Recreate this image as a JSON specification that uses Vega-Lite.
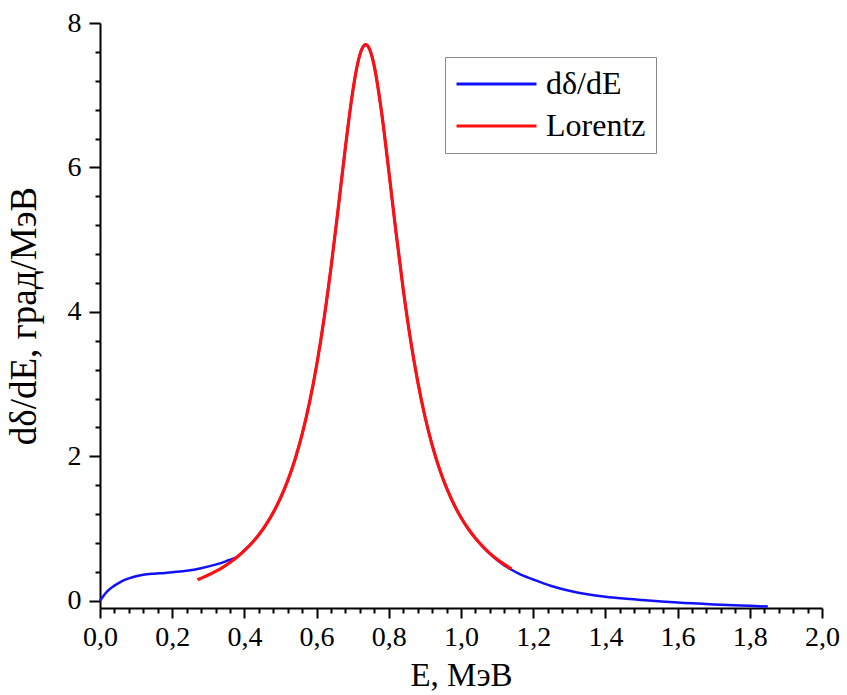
{
  "$schema": "https://vega.github.io/schema/vega-lite/v6.json",
  "autosize": "none",
  "width": 722,
  "height": 585,
  "padding": {"left": 100, "top": 23, "right": 25, "bottom": 87},
  "background": "white",
  "config": {
    "view": {"stroke": null},
    "font": "Liberation Serif",
    "axis": {"labelFont": "Liberation Serif", "titleFont": "Liberation Serif", "labelColor": "black", "titleColor": "black", "domainColor": "black", "tickColor": "black", "grid": false}
  },
  "datasets": {
    "curves": [
      {"E": 0.0, "v": 0.0, "s": "dδ/dE"},
      {"E": 0.01, "v": 0.07, "s": "dδ/dE"},
      {"E": 0.02, "v": 0.13, "s": "dδ/dE"},
      {"E": 0.04, "v": 0.21, "s": "dδ/dE"},
      {"E": 0.06, "v": 0.27, "s": "dδ/dE"},
      {"E": 0.08, "v": 0.31, "s": "dδ/dE"},
      {"E": 0.10, "v": 0.34, "s": "dδ/dE"},
      {"E": 0.12, "v": 0.36, "s": "dδ/dE"},
      {"E": 0.15, "v": 0.375, "s": "dδ/dE"},
      {"E": 0.18, "v": 0.385, "s": "dδ/dE"},
      {"E": 0.20, "v": 0.395, "s": "dδ/dE"},
      {"E": 0.24, "v": 0.415, "s": "dδ/dE"},
      {"E": 0.28, "v": 0.45, "s": "dδ/dE"},
      {"E": 0.32, "v": 0.50, "s": "dδ/dE"},
      {"E": 0.35, "v": 0.55, "s": "dδ/dE"},
      {"E": 0.38, "v": 0.61, "s": "dδ/dE"},
      {"E": 0.40, "v": 0.70, "s": "dδ/dE"},
      {"E": 0.42, "v": 0.796, "s": "dδ/dE"},
      {"E": 0.44, "v": 0.915, "s": "dδ/dE"},
      {"E": 0.46, "v": 1.056, "s": "dδ/dE"},
      {"E": 0.48, "v": 1.223, "s": "dδ/dE"},
      {"E": 0.50, "v": 1.423, "s": "dδ/dE"},
      {"E": 0.52, "v": 1.663, "s": "dδ/dE"},
      {"E": 0.54, "v": 1.954, "s": "dδ/dE"},
      {"E": 0.56, "v": 2.307, "s": "dδ/dE"},
      {"E": 0.58, "v": 2.737, "s": "dδ/dE"},
      {"E": 0.60, "v": 3.259, "s": "dδ/dE"},
      {"E": 0.62, "v": 3.885, "s": "dδ/dE"},
      {"E": 0.64, "v": 4.617, "s": "dδ/dE"},
      {"E": 0.66, "v": 5.439, "s": "dδ/dE"},
      {"E": 0.68, "v": 6.286, "s": "dδ/dE"},
      {"E": 0.70, "v": 7.048, "s": "dδ/dE"},
      {"E": 0.71, "v": 7.346, "s": "dδ/dE"},
      {"E": 0.72, "v": 7.562, "s": "dδ/dE"},
      {"E": 0.73, "v": 7.680, "s": "dδ/dE"},
      {"E": 0.736, "v": 7.70, "s": "dδ/dE"},
      {"E": 0.74, "v": 7.691, "s": "dδ/dE"},
      {"E": 0.75, "v": 7.594, "s": "dδ/dE"},
      {"E": 0.76, "v": 7.396, "s": "dδ/dE"},
      {"E": 0.78, "v": 6.764, "s": "dδ/dE"},
      {"E": 0.80, "v": 5.951, "s": "dδ/dE"},
      {"E": 0.82, "v": 5.102, "s": "dδ/dE"},
      {"E": 0.84, "v": 4.311, "s": "dδ/dE"},
      {"E": 0.86, "v": 3.620, "s": "dδ/dE"},
      {"E": 0.88, "v": 3.038, "s": "dδ/dE"},
      {"E": 0.90, "v": 2.555, "s": "dδ/dE"},
      {"E": 0.92, "v": 2.157, "s": "dδ/dE"},
      {"E": 0.94, "v": 1.831, "s": "dδ/dE"},
      {"E": 0.96, "v": 1.562, "s": "dδ/dE"},
      {"E": 0.98, "v": 1.339, "s": "dδ/dE"},
      {"E": 1.00, "v": 1.153, "s": "dδ/dE"},
      {"E": 1.02, "v": 0.997, "s": "dδ/dE"},
      {"E": 1.04, "v": 0.865, "s": "dδ/dE"},
      {"E": 1.06, "v": 0.750, "s": "dδ/dE"},
      {"E": 1.08, "v": 0.650, "s": "dδ/dE"},
      {"E": 1.10, "v": 0.565, "s": "dδ/dE"},
      {"E": 1.12, "v": 0.49, "s": "dδ/dE"},
      {"E": 1.14, "v": 0.43, "s": "dδ/dE"},
      {"E": 1.16, "v": 0.375, "s": "dδ/dE"},
      {"E": 1.20, "v": 0.295, "s": "dδ/dE"},
      {"E": 1.25, "v": 0.205, "s": "dδ/dE"},
      {"E": 1.30, "v": 0.14, "s": "dδ/dE"},
      {"E": 1.35, "v": 0.09, "s": "dδ/dE"},
      {"E": 1.40, "v": 0.055, "s": "dδ/dE"},
      {"E": 1.45, "v": 0.03, "s": "dδ/dE"},
      {"E": 1.50, "v": 0.01, "s": "dδ/dE"},
      {"E": 1.60, "v": -0.025, "s": "dδ/dE"},
      {"E": 1.70, "v": -0.05, "s": "dδ/dE"},
      {"E": 1.80, "v": -0.07, "s": "dδ/dE"},
      {"E": 1.85, "v": -0.08, "s": "dδ/dE"},
      {"E": 0.27, "v": 0.291, "s": "Lorentz"},
      {"E": 0.28, "v": 0.312, "s": "Lorentz"},
      {"E": 0.30, "v": 0.356, "s": "Lorentz"},
      {"E": 0.32, "v": 0.407, "s": "Lorentz"},
      {"E": 0.34, "v": 0.464, "s": "Lorentz"},
      {"E": 0.36, "v": 0.530, "s": "Lorentz"},
      {"E": 0.38, "v": 0.606, "s": "Lorentz"},
      {"E": 0.40, "v": 0.694, "s": "Lorentz"},
      {"E": 0.42, "v": 0.796, "s": "Lorentz"},
      {"E": 0.44, "v": 0.915, "s": "Lorentz"},
      {"E": 0.46, "v": 1.056, "s": "Lorentz"},
      {"E": 0.48, "v": 1.223, "s": "Lorentz"},
      {"E": 0.50, "v": 1.423, "s": "Lorentz"},
      {"E": 0.52, "v": 1.663, "s": "Lorentz"},
      {"E": 0.54, "v": 1.954, "s": "Lorentz"},
      {"E": 0.56, "v": 2.307, "s": "Lorentz"},
      {"E": 0.58, "v": 2.737, "s": "Lorentz"},
      {"E": 0.60, "v": 3.259, "s": "Lorentz"},
      {"E": 0.62, "v": 3.885, "s": "Lorentz"},
      {"E": 0.64, "v": 4.617, "s": "Lorentz"},
      {"E": 0.66, "v": 5.439, "s": "Lorentz"},
      {"E": 0.68, "v": 6.286, "s": "Lorentz"},
      {"E": 0.70, "v": 7.048, "s": "Lorentz"},
      {"E": 0.71, "v": 7.346, "s": "Lorentz"},
      {"E": 0.72, "v": 7.562, "s": "Lorentz"},
      {"E": 0.73, "v": 7.680, "s": "Lorentz"},
      {"E": 0.736, "v": 7.70, "s": "Lorentz"},
      {"E": 0.74, "v": 7.691, "s": "Lorentz"},
      {"E": 0.75, "v": 7.594, "s": "Lorentz"},
      {"E": 0.76, "v": 7.396, "s": "Lorentz"},
      {"E": 0.78, "v": 6.764, "s": "Lorentz"},
      {"E": 0.80, "v": 5.951, "s": "Lorentz"},
      {"E": 0.82, "v": 5.102, "s": "Lorentz"},
      {"E": 0.84, "v": 4.311, "s": "Lorentz"},
      {"E": 0.86, "v": 3.620, "s": "Lorentz"},
      {"E": 0.88, "v": 3.038, "s": "Lorentz"},
      {"E": 0.90, "v": 2.555, "s": "Lorentz"},
      {"E": 0.92, "v": 2.157, "s": "Lorentz"},
      {"E": 0.94, "v": 1.831, "s": "Lorentz"},
      {"E": 0.96, "v": 1.562, "s": "Lorentz"},
      {"E": 0.98, "v": 1.339, "s": "Lorentz"},
      {"E": 1.00, "v": 1.153, "s": "Lorentz"},
      {"E": 1.02, "v": 0.997, "s": "Lorentz"},
      {"E": 1.04, "v": 0.865, "s": "Lorentz"},
      {"E": 1.06, "v": 0.753, "s": "Lorentz"},
      {"E": 1.08, "v": 0.657, "s": "Lorentz"},
      {"E": 1.10, "v": 0.574, "s": "Lorentz"},
      {"E": 1.12, "v": 0.503, "s": "Lorentz"},
      {"E": 1.14, "v": 0.4405, "s": "Lorentz"}
    ]
  },
  "data": {"name": "curves"},
  "encoding": {
    "x": {"field": "E", "type": "quantitative", "title": "E, МэВ",
      "scale": {"domain": [0, 2], "nice": false, "zero": false},
      "axis": {"values": [0,0.04,0.08,0.12,0.16,0.2,0.24,0.28,0.32,0.36,0.4,0.44,0.48,0.52,0.56,0.6,0.64,0.68,0.72,0.76,0.8,0.84,0.88,0.92,0.96,1,1.04,1.08,1.12,1.16,1.2,1.24,1.28,1.32,1.36,1.4,1.44,1.48,1.52,1.56,1.6,1.64,1.68,1.72,1.76,1.8,1.84,1.88,1.92,1.96,2],
        "labelExpr": "abs(datum.value*5 - round(datum.value*5)) < 0.001 ? replace(format(datum.value, '.1f'), '.', ',') : ''",
        "tickSize": {"condition": {"test": "abs(datum.value*5 - round(datum.value*5)) < 0.001", "value": 10}, "value": 5},
        "labelOverlap": false, "labelFlush": false, "labelFontSize": 28, "titleFontSize": 33, "titleFontWeight": "normal",
        "tickWidth": 2, "domainWidth": 2, "labelPadding": 5, "titlePadding": 8}},
    "y": {"field": "v", "type": "quantitative", "title": "dδ/dE, град/МэВ",
      "scale": {"domain": [-0.1, 8], "nice": false, "zero": false},
      "axis": {"values": [0,0.4,0.8,1.2,1.6,2,2.4,2.8,3.2,3.6,4,4.4,4.8,5.2,5.6,6,6.4,6.8,7.2,7.6,8],
        "labelExpr": "abs(datum.value/2 - round(datum.value/2)) < 0.001 ? format(datum.value, 'd') : ''",
        "tickSize": {"condition": {"test": "abs(datum.value/2 - round(datum.value/2)) < 0.001", "value": 11}, "value": 5},
        "labelOverlap": false, "labelFlush": false, "labelFontSize": 28, "titleFontSize": 37, "titleFontWeight": "normal",
        "tickWidth": 2, "domainWidth": 2, "labelPadding": 8, "titlePadding": 24}}
  },
  "layer": [
    {
      "transform": [{"filter": "datum.s === 'dδ/dE'"}],
      "mark": {"type": "line", "strokeWidth": 2.5, "interpolate": "monotone"},
      "encoding": {
        "color": {"field": "s", "type": "nominal", "scale": {"domain": ["dδ/dE", "Lorentz"], "range": ["#1010ff", "#ff1010"]},
          "legend": {"orient": "none", "legendX": 345, "legendY": 34, "title": null, "symbolType": "stroke", "symbolSize": 6400, "symbolStrokeWidth": 3, "clipHeight": 34, "labelFontSize": 32, "labelFont": "Liberation Serif", "labelColor": "black", "strokeColor": "#888", "fillColor": "white", "padding": 10, "rowPadding": 8, "labelOffset": 8}}
      }
    },
    {
      "transform": [{"filter": "datum.s === 'Lorentz'"}],
      "mark": {"type": "line", "strokeWidth": 3.2, "interpolate": "monotone"},
      "encoding": {
        "color": {"field": "s", "type": "nominal"}
      }
    }
  ]
}
